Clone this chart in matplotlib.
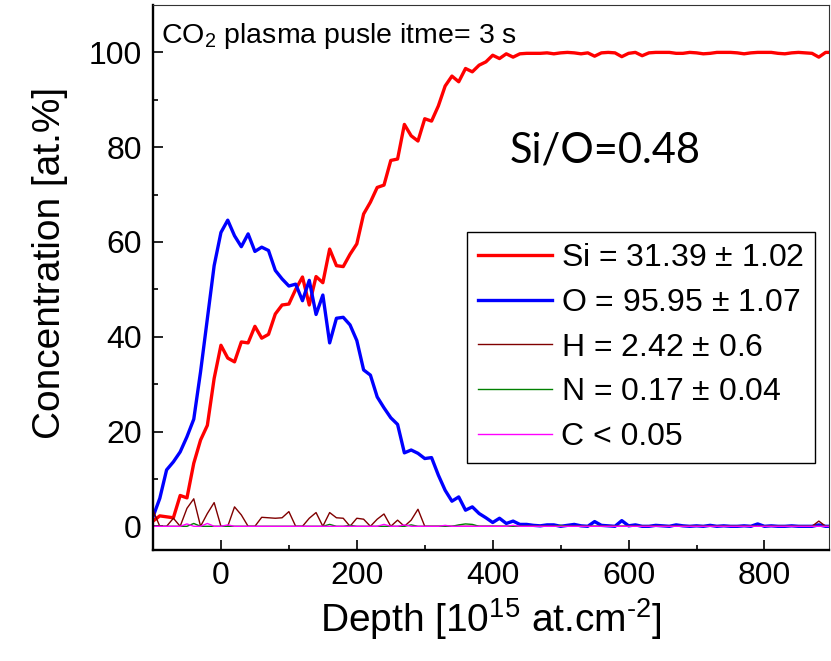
import numpy as np
import matplotlib
matplotlib.use("Agg")
import matplotlib.pyplot as plt

plt.rcParams["font.family"] = ["Liberation Sans", "DejaVu Sans"]
plt.rcParams["mathtext.fontset"] = "custom"
plt.rcParams["mathtext.rm"] = "Liberation Sans"
plt.rcParams["mathtext.it"] = "Liberation Sans:italic"
plt.rcParams["mathtext.default"] = "regular"

# depth grid, 10^15 at/cm2
depth = np.arange(-100, 901, 10)

si = [1.1, 2.2, 2.0, 1.8, 6.5, 6.0, 13.3, 18.2, 21.3, 31.2,
      38.2, 35.5, 34.7, 38.9, 38.7, 42.2, 39.7, 40.5, 44.8, 46.7,
      46.9, 50.0, 52.6, 46.7, 52.7, 51.4, 58.5, 55.0, 54.8, 57.4,
      59.6, 65.9, 68.4, 71.5, 72.0, 77.2, 77.5, 84.8, 82.4, 81.3,
      86.0, 85.5, 88.7, 92.9, 95.0, 93.8, 96.6, 95.9, 97.3, 98.0,
      99.4, 98.7, 99.7, 99.0, 99.7, 99.8, 99.8, 99.8, 99.9, 99.7,
      99.9, 100.0, 99.9, 99.7, 99.9, 99.2, 99.9, 100.0, 99.9, 99.1,
      99.8, 100.0, 99.3, 99.9, 100.0, 100.0, 100.0, 99.8, 99.8, 100.0,
      99.9, 99.7, 99.8, 100.0, 100.0, 100.0, 99.9, 99.7, 99.9, 100.0,
      100.0, 100.0, 99.8, 99.7, 99.9, 100.0, 99.9, 99.8, 99.0, 100.0,
      100.0]

o = [2.0, 5.9, 11.9, 13.6, 15.7, 18.9, 22.6, 32.6, 43.8, 55.0,
     62.0, 64.6, 61.3, 59.0, 61.7, 58.0, 58.9, 58.2, 54.0, 52.2,
     50.7, 51.1, 47.6, 51.9, 44.7, 48.8, 38.7, 43.9, 44.1, 42.5,
     39.2, 33.0, 31.9, 27.3, 25.0, 22.9, 21.5, 15.5, 16.1, 15.4,
     14.3, 14.5, 10.8, 7.6, 5.3, 6.2, 3.4, 4.1, 2.7, 1.8,
     0.8, 1.7, 0.6, 1.1, 0.4, 0.4, 0.2, 0.1, 0.3, 0.3,
     0.0, 0.2, 0.4, 0.1, 0.0, 1.0, 0.2, 0.1, 0.0, 1.2,
     0.1, 0.3, 0.0, 0.0, 0.2, 0.1, 0.0, 0.3, 0.1, 0.0,
     0.1, 0.0, 0.2, 0.0, 0.1, 0.0, 0.0, 0.1, 0.0, 0.5,
     0.0, 0.1, 0.0, 0.0, 0.1, 0.0, 0.0, 0.0, 0.3, 0.0,
     0.0]

h = [3.4, 0.0, 0.0, 1.7, 0.0, 3.8, 5.8, 0.0, 2.7, 5.0,
     0.0, 0.0, 4.1, 2.4, 0.0, 0.0, 1.9, 1.8, 1.7, 1.8,
     3.1, 0.0, 0.0, 1.7, 2.9, 0.0, 2.9, 1.8, 1.7, 0.0,
     1.7, 1.5, 0.0, 1.5, 2.6, 0.0, 1.3, 0.0, 1.3, 3.6,
     0.0, 0.0, 0.0, 0.0, 0.0, 0.0, 0.0, 0.0, 0.0, 0.0,
     0.0, 0.0, 0.0, 0.0, 0.0, 0.0, 0.0, 0.0, 0.0, 0.0,
     0.0, 0.0, 0.0, 0.0, 0.0, 0.0, 0.0, 0.0, 0.0, 0.0,
     0.0, 0.0, 0.0, 0.0, 0.0, 0.0, 0.0, 0.0, 0.0, 0.0,
     0.0, 0.0, 0.0, 0.0, 0.0, 0.0, 0.0, 0.0, 0.0, 0.0,
     0.0, 0.0, 0.0, 0.0, 0.0, 0.0, 0.0, 0.0, 1.1, 0.0,
     0.0]

n = [0.0, 0.0, 0.0, 0.0, 0.0, 0.0, 0.6, 0.0, 0.0, 0.0,
     0.0, 0.0, 0.0, 0.0, 0.0, 0.0, 0.0, 0.0, 0.0, 0.0,
     0.0, 0.0, 0.0, 0.0, 0.0, 0.0, 0.4, 0.0, 0.0, 0.2,
     0.0, 0.0, 0.0, 0.0, 0.0, 0.0, 0.0, 0.0, 0.3, 0.0,
     0.0, 0.0, 0.0, 0.0, 0.0, 0.3, 0.5, 0.4, 0.0, 0.0,
     0.0, 0.0, 0.0, 0.0, 0.0, 0.0, 0.0, 0.0, 0.0, 0.0,
     0.2, 0.0, 0.0, 0.0, 0.0, 0.0, 0.0, 0.0, 0.0, 0.0,
     0.0, 0.0, 0.0, 0.0, 0.0, 0.0, 0.0, 0.0, 0.0, 0.0,
     0.0, 0.0, 0.0, 0.0, 0.0, 0.0, 0.0, 0.0, 0.0, 0.0,
     0.0, 0.0, 0.0, 0.0, 0.0, 0.0, 0.0, 0.0, 0.0, 0.0,
     0.0]

c = [0.0, 0.0, 0.0, 0.0, 0.0, 0.5, 0.0, 0.0, 0.6, 0.0,
     0.0, 0.3, 0.0, 0.0, 0.0, 0.0, 0.0, 0.0, 0.0, 0.0,
     0.0, 0.0, 0.0, 0.0, 0.0, 0.0, 0.0, 0.0, 0.0, 0.0,
     0.0, 0.0, 0.0, 0.0, 0.4, 0.0, 0.0, 0.3, 0.0, 0.0,
     0.0, 0.0, 0.0, 0.2, 0.0, 0.0, 0.0, 0.0, 0.0, 0.0,
     0.0, 0.0, 0.0, 0.2, 0.0, 0.0, 0.0, 0.0, 0.0, 0.0,
     0.0, 0.0, 0.0, 0.0, 0.0, 0.0, 0.0, 0.0, 0.0, 0.0,
     0.0, 0.0, 0.0, 0.0, 0.0, 0.0, 0.0, 0.0, 0.0, 0.0,
     0.0, 0.0, 0.0, 0.0, 0.0, 0.0, 0.0, 0.0, 0.0, 0.0,
     0.0, 0.0, 0.0, 0.0, 0.0, 0.0, 0.0, 0.0, 0.0, 0.0,
     0.0]

labels = [r"Si = 31.39 $\pm$ 1.02", r"O = 95.95 $\pm$ 1.07",
          r"H = 2.42 $\pm$ 0.6", r"N = 0.17 $\pm$ 0.04", "C < 0.05"]

fig = plt.figure(figsize=(8.31, 6.61), dpi=100)
ax = fig.add_axes([153 / 831, 111 / 661, 676 / 831, 545 / 661])

ax.plot(depth, si, color="#ff0000", lw=2.4, label=labels[0])
ax.plot(depth, o, color="#0000ff", lw=2.4, label=labels[1])
ax.plot(depth, h, color="#800000", lw=1.0, label=labels[2])
ax.plot(depth, n, color="#008000", lw=1.0, label=labels[3])
ax.plot(depth, c, color="#ff00ff", lw=1.0, label=labels[4])

ax.set_xlim(-100, 895)
ax.set_ylim(-5, 110)
ax.set_xticks([0, 200, 400, 600, 800])
ax.set_xticks(np.arange(-100, 900, 100), minor=True)
ax.set_yticks([0, 20, 40, 60, 80, 100])
ax.set_yticks(np.arange(10, 110, 20), minor=True)
ax.tick_params(which="major", direction="in", length=7, width=1.2,
               labelsize=23, pad=8)
ax.tick_params(which="minor", direction="in", length=3.5, width=1.2)
ax.tick_params(top=False, right=False, which="both")

for side in ["left", "bottom"]:
    ax.spines[side].set_linewidth(1.7)
for side in ["top", "right"]:
    ax.spines[side].set_linewidth(0.8)
    ax.spines[side].set_color("#333333")

ax.set_xlabel(r"Depth [10$^{15}$ at.cm$^{\text{-}2}$]", fontsize=28)
ax.set_ylabel("Concentration [at.%]", fontsize=28)
ax.yaxis.set_label_coords(-0.125, 0.527)

ax.text(0.012, 0.930, r"CO$_2$ plasma pusle itme= 3 s", transform=ax.transAxes,
        fontsize=20.5, va="baseline", ha="left")
ax.text(0.527, 0.711, "Si/O=0.48", transform=ax.transAxes,
        fontsize=30, va="baseline", ha="left", family=["Lato", "DejaVu Sans"])

leg = ax.legend(loc="upper left", bbox_to_anchor=(467 / 831, 1 - 232 / 661),
                bbox_transform=fig.transFigure, fontsize=23, fancybox=False,
                framealpha=1, edgecolor="black", borderpad=0.35,
                handlelength=2.3, handletextpad=0.3, labelspacing=0.46,
                borderaxespad=0)
leg.get_frame().set_linewidth(1.0)

fig.savefig("out.png", dpi=100)
